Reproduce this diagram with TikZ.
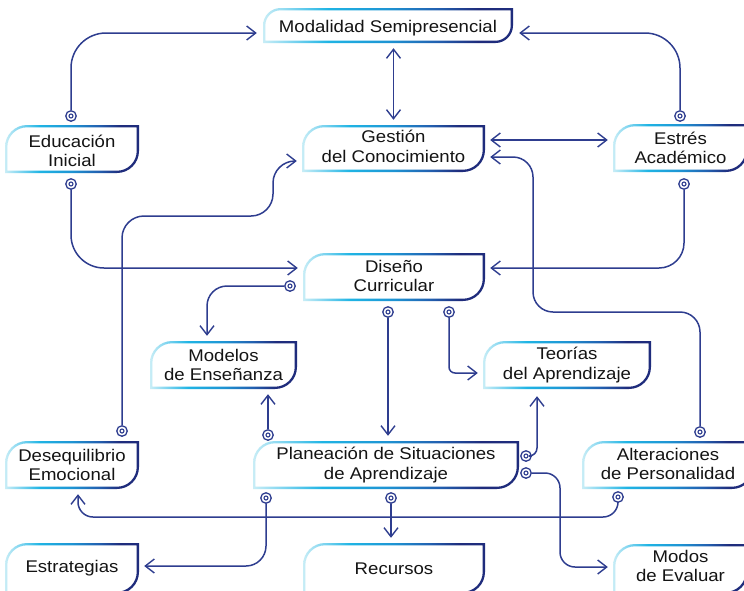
\documentclass[tikz,border=0pt]{standalone}
\usepackage{fontspec}
\setmainfont{Liberation Sans}[FakeStretch=1.1]
\usetikzlibrary{arrows.meta,calc}
\definecolor{lc}{HTML}{2E3D8F}
\definecolor{txt}{HTML}{141414}
\definecolor{ba}{HTML}{C8EDF6}
\definecolor{bb}{HTML}{7AD3EF}
\definecolor{bc}{HTML}{1FB4E4}
\definecolor{bd}{HTML}{1E94D3}
\definecolor{be}{HTML}{2260B0}
\definecolor{bf}{HTML}{1F2C7C}
\pgfdeclarehorizontalshading{bordershade}{100bp}{color(0bp)=(ba); color(25bp)=(ba); color(31bp)=(bb); color(38bp)=(bc); color(50bp)=(bd); color(60bp)=(be); color(68bp)=(bf); color(100bp)=(bf)}
\newcommand\boxfont{\fontsize{16.9}{19.5}\selectfont}
\newcommand\rpath[5]{(#1,#4) -- (#1,{#2+#5}) .. controls (#1,{#2+0.4477*#5}) and ({#1+0.4477*#5},#2) .. ({#1+#5},#2) -- (#3,#2) -- (#3,{#4-#5}) .. controls (#3,{#4-0.4477*#5}) and ({#3-0.4477*#5},#4) .. ({#3-#5},#4) -- cycle}
\newcommand\gbox[7][0]{%
  \pgfmathsetmacro\gbR{min(22,0.5*(#6-#4))}%
  \pgfmathsetmacro\gbRi{\gbR-2.3}%
  \pgfmathsetmacro\gbXa{#3+2.3}%
  \pgfmathsetmacro\gbYa{#4+2.3}%
  \pgfmathsetmacro\gbXb{#5-2.3}%
  \pgfmathsetmacro\gbYb{#6-2.3}%
  \shade[shading=bordershade, even odd rule] \rpath{#3}{#4}{#5}{#6}{\gbR} \rpath{\gbXa}{\gbYa}{\gbXb}{\gbYb}{\gbRi};
  \node[inner sep=0pt, minimum width={(#5-#3)*1pt}, minimum height={(#6-#4)*1pt}] (#2) at ({(#3+#5)/2},{(#4+#6)/2}) {};
  \node[boxtext] (#2t) at ($(#2.center)+(0,#1)$) {#7};
}
\tikzset{
  boxtext/.style={align=center, inner sep=0pt, font=\boxfont, text=txt},
  spot/.style={circle, draw=lc, line width=1.3pt, minimum size=10.5pt, inner sep=0pt,
    path picture={\draw[lc, line width=1.1pt] (path picture bounding box.center) circle[radius=2pt];}},
  >={Straight Barb[length=9pt,width=14pt,line width=1.4pt]},
  conn/.style={draw=lc, line width=1.5pt, ->},
}
\begin{document}
\begin{tikzpicture}[x=1pt,y=-1pt]
\useasboundingbox (0,0) rectangle (744,590);
\clip (0,0) rectangle (744,590);
\fill[white] (0,0) rectangle (744,590);
% boxes
\gbox[2.5]{mod}{263}{8}{513}{43}{Modalidad Semipresencial}
\gbox[2]{ed}{5}{125}{139}{173}{Educación\\Inicial}
\gbox[-2]{gc}{302}{125}{485}{172}{Gestión\\del Conocimiento}
\gbox{es}{613}{124}{748}{172}{Estrés\\Académico}
\gbox[-1]{dc}{303}{253}{485}{301}{Diseño\\Curricular}
\gbox{mo}{150}{341}{297}{389}{Modelos\\de Enseñanza}
\gbox{te}{483}{341}{651}{389}{Teorías\\del Aprendizaje}
\gbox{de}{5}{441}{139}{489}{Desequilibrio\\Emocional}
\gbox{pl}{253}{441}{519}{489}{Planeación de Situaciones\\de Aprendizaje}
\gbox[-1]{al}{582}{441}{754}{489}{Alteraciones\\de Personalidad}
\gbox{st}{5}{543}{139}{594}{Estrategias}
\gbox{re}{303}{543}{485}{594}{Recursos}
\gbox[-3]{mev}{613}{544}{748}{594}{Modos\\de Evaluar}
% start spots
\node[spot] (mEduT) at (71,116) {};
\node[spot] (mEduB) at (71,184) {};
\node[spot] (mEstT) at (680,116) {};
\node[spot] (mEstB) at (684,184) {};
\node[spot] (mAltT) at (700,432) {};
\node[spot] (mAltB) at (618,497) {};
\node[spot] (mDesT) at (122,431) {};
\node[spot] (mDisL) at (290,286) {};
\node[spot] (mDisBa) at (388,312) {};
\node[spot] (mDisBb) at (449,312) {};
\node[spot] (mPlT) at (268,435) {};
\node[spot] (mPlRa) at (526,456) {};
\node[spot] (mPlRb) at (526,473) {};
\node[spot] (mPlBa) at (266,498) {};
\node[spot] (mPlBb) at (391,498) {};
% connectors
\draw[conn, rounded corners=35] (mEduT.north) |- ($(mod.west)+(-6,7.5)$);
\draw[conn, rounded corners=35] (mEstT.north) |- ($(mod.east)+(6,7.5)$);
\draw[conn, <->, shorten <=5pt, shorten >=5pt] (mod.south -| gc.north) -- (gc.north);
\coordinate (d1) at ($(gc.east)+(5,-8.5)$);
\draw[conn, <->, shorten >=5pt] (d1) -- (d1 -| es.west);
\coordinate (e1) at ($(gc.east)+(5,8.5)$);
\draw[conn, rounded corners=20] (mAltT.north) |- (533,312) |- (e1);
\draw[conn, rounded corners=33] (mEduB.south) |- ($(dc.west)+(-5,-9)$);
\draw[conn, rounded corners=25] (mEstB.south) |- ($(dc.east)+(5,-9)$);
\draw[conn, rounded corners=22] (mDesT.north) -- (122,216) -- (273,216) -- (273,161) -- ($(gc.west)+(-5,12.5)$);
\draw[conn, rounded corners=20] (mDisL.west) -| ($(mo.north)+(-16.5,-5)$);
\draw[conn, shorten >=5pt] (mDisBa.south) -- (mDisBa.south |- pl.north);
\draw[conn, rounded corners=6] (mDisBb.south) |- ($(te.west)+(-5,8)$);
\draw[conn, shorten >=5pt] (mPlT.north) -- (mPlT.north |- mo.south);
\draw[conn, rounded corners=8] (mPlRa.east) -| ($(te.south)+(-30,7)$);
\draw[conn, rounded corners=15] (mPlRb.east) -- (560,473) -- (560,567) -- ($(mev.west)+(-5,-2)$);
\draw[conn, rounded corners=20] (mPlBa.south) |- ($(st.east)+(5,-2.5)$);
\draw[conn, shorten >=5pt] (mPlBb.south) -- (mPlBb.south |- re.north);
\draw[conn, rounded corners=15] (mAltB.south) |- (78,517) -- ($(de.south)+(6,5)$);
\end{tikzpicture}
\end{document}
